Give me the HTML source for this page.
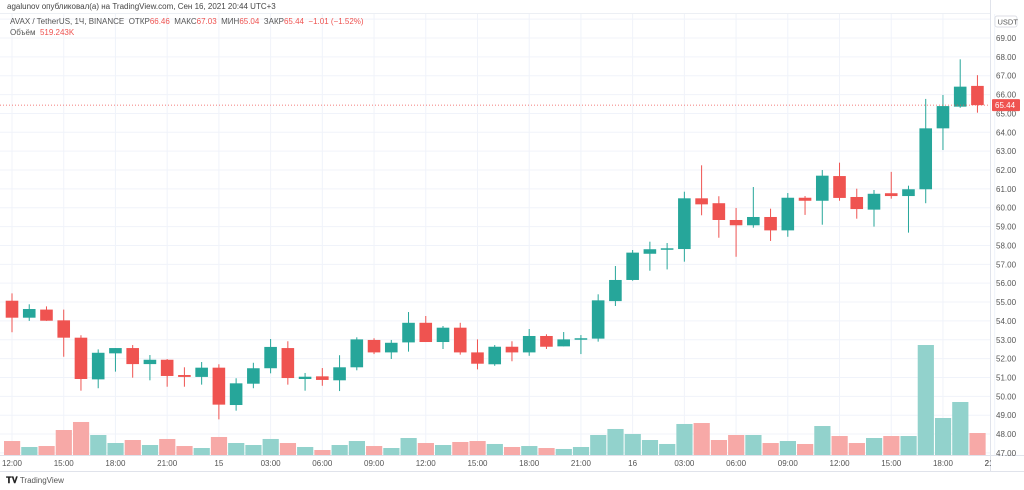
<!DOCTYPE html>
<html><head><meta charset="utf-8">
<style>
html,body{margin:0;padding:0;background:#fff;}
body{width:1024px;height:490px;overflow:hidden;position:relative;font-family:"Liberation Sans","DejaVu Sans",sans-serif;}
svg{position:absolute;left:0;top:0;}
</style></head>
<body>
<svg id="chart" width="1024" height="490"></svg>
<script>
const opens =[55.07,54.17,54.60,54.03,53.11,50.90,52.28,52.56,51.71,51.94,51.13,51.03,51.52,49.54,50.67,51.49,52.56,50.92,51.06,50.85,51.54,52.99,52.33,52.86,53.90,52.88,53.64,52.33,51.70,52.63,52.33,53.20,52.65,53.02,53.06,55.05,56.17,57.56,57.80,57.81,60.50,60.24,59.35,59.07,59.51,58.80,60.53,60.37,61.68,60.57,59.90,60.77,60.62,60.98,64.21,65.36,66.46];
const highs =[55.46,54.88,54.77,54.60,53.24,52.49,52.56,52.72,52.19,51.98,51.54,51.82,51.70,50.96,51.78,53.04,52.92,51.24,51.50,52.18,53.13,53.08,52.99,54.47,54.26,53.73,53.90,53.02,52.72,52.92,53.57,53.29,53.41,53.25,55.41,56.91,57.76,58.20,58.13,60.85,62.25,60.61,59.99,61.10,59.95,60.78,60.62,62.00,62.39,61.01,60.94,61.90,61.17,65.77,65.98,67.87,67.03];
const lows  =[53.40,54.00,54.00,52.10,50.30,50.43,51.31,50.99,50.85,50.51,50.51,50.62,48.78,49.24,50.43,51.22,50.62,50.30,50.56,50.28,51.38,52.24,51.98,52.37,52.88,52.51,52.21,51.43,51.62,51.86,52.15,52.51,52.65,52.24,52.90,54.79,56.13,56.66,56.73,57.14,59.60,58.41,57.40,58.94,58.24,58.46,59.62,59.10,60.37,59.42,59.00,60.48,58.68,60.24,63.06,65.30,65.04];
const closes=[54.17,54.63,54.01,53.11,50.92,52.31,52.56,51.71,51.94,51.08,51.03,51.52,49.56,50.69,51.49,52.62,50.97,51.04,50.87,51.54,53.02,52.33,52.84,53.90,52.88,53.64,52.33,51.73,52.63,52.33,53.20,52.63,53.02,53.08,55.09,56.17,57.62,57.80,57.85,60.50,60.18,59.35,59.07,59.51,58.80,60.53,60.37,61.70,60.52,59.93,60.74,60.62,60.98,64.21,65.39,66.42,65.44];
const volumes=[330,189,212,590,779,472,283,354,236,378,212,165,425,283,236,378,283,189,118,236,330,212,165,401,283,236,307,330,260,189,212,165,142,189,472,614,496,354,260,732,755,354,472,472,283,330,260,684,448,283,401,448,448,2596,873,1251,519];
const priceTicks=[47,48,49,50,51,52,53,54,55,56,57,58,59,60,61,62,63,64,65,66,67,68,69,70];
const timeLabels=["12:00","15:00","18:00","21:00","15","03:00","06:00","09:00","12:00","15:00","18:00","21:00","16","03:00","06:00","09:00","12:00","15:00","18:00","21:00"];
const lastPrice=65.44;

const NS="http://www.w3.org/2000/svg";
const svg=document.getElementById('chart');
const PLOT_R=990, VOL_BASE=455;
const xOf=i=>12+i*17.24;
const yOf=p=>38+(69-p)*18.86;
const vOf=v=>VOL_BASE-v/23.6;
function mk(tag,attrs,parent){const e=document.createElementNS(NS,tag);for(const k in attrs)e.setAttribute(k,attrs[k]);(parent||svg).appendChild(e);return e;}

const grid=mk('g',{});


priceTicks.forEach(p=>{const y=yOf(p);if(y<14||y>456)return;mk('line',{x1:0,x2:PLOT_R,y1:y,y2:y,stroke:'#f0f3fa','stroke-width':1},grid);});
timeLabels.forEach((t,k)=>{const x=xOf(k*3);mk('line',{x1:x,x2:x,y1:14,y2:VOL_BASE,stroke:'#f0f3fa','stroke-width':1},grid);});

const vg=mk('g',{});


volumes.forEach((v,i)=>{
  const up=closes[i]>=opens[i];
  const r=mk('rect',{x:xOf(i)-8,y:vOf(v),width:16.2,height:VOL_BASE-vOf(v),fill:up?'#92d2cc':'#f7a9a7'},vg);
  
  
});

const cg=mk('g',{});


opens.forEach((o,i)=>{
  const c=closes[i],up=c>=o,col=up?'#26a69a':'#ef5350',x=xOf(i);
  const g=mk('g',{},cg);
  
  
  mk('line',{x1:x,x2:x,y1:yOf(highs[i]),y2:yOf(lows[i]),stroke:col,'stroke-width':1},g);
  const top=yOf(Math.max(o,c)),bot=yOf(Math.min(o,c));
  mk('rect',{x:x-6.3,y:top,width:12.6,height:Math.max(1.5,bot-top),fill:col},g);
});

// last price line
const lp=mk('line',{x1:0,x2:PLOT_R,y1:yOf(lastPrice),y2:yOf(lastPrice),stroke:'#ef5350','stroke-width':0.7,'stroke-dasharray':'1 2'});



// axes
mk('line',{x1:PLOT_R+0.5,x2:PLOT_R+0.5,y1:0,y2:471,stroke:'#e0e3eb','stroke-width':1});
mk('line',{x1:0,x2:1024,y1:VOL_BASE+0.5,y2:VOL_BASE+0.5,stroke:'#e0e3eb','stroke-width':1});
mk('line',{x1:0,x2:1024,y1:471.5,y2:471.5,stroke:'#e0e3eb','stroke-width':1});
const ya=mk('g',{});


priceTicks.forEach(p=>{const y=yOf(p);if(y>456)return;
  const t=mk('text',{x:996,y:y+3,'font-size':8,fill:'#555'},ya);t.textContent=p.toFixed(2);
  
  
});
const xa=mk('g',{});


timeLabels.forEach((s,k)=>{
  const t=mk('text',{x:xOf(k*3),y:466,'font-size':8,fill:'#555','text-anchor':'middle'},xa);t.textContent=s;
  
  
});
const t21=mk('text',{x:xOf(57),y:466,'font-size':8,fill:'#555','text-anchor':'middle'},xa);t21.textContent="21:00";
// cover right of plot for axis background
mk('rect',{x:PLOT_R+1,y:456,width:40,height:15,fill:'#fff'});
// price badge
const pb=mk('g',{});


mk('rect',{x:992,y:yOf(lastPrice)-6,width:28,height:12,fill:'#ef5350',rx:1},pb);
const pbt=mk('text',{x:995,y:yOf(lastPrice)+3,'font-size':8,fill:'#fff'},pb);pbt.textContent=lastPrice.toFixed(2);
// USDT badge
const ub=mk('g',{});


mk('rect',{x:995,y:16,width:22,height:11,fill:'#fff',stroke:'#d1d4dc','stroke-width':0.7,rx:2},ub);
const ubt=mk('text',{x:997.5,y:24.5,'font-size':7.5,fill:'#555'},ub);ubt.textContent="USDT";
</script>
<div style="position:absolute;left:7px;top:2px;font-size:8px;color:#444;white-space:nowrap;">agalunov опубликовал(а) на TradingView.com, Сен 16, 2021 20:44 UTC+3</div>
<div style="position:absolute;left:0;top:13px;width:990px;height:1px;background:#eceff4;"></div>
<div style="position:absolute;left:10px;top:17px;font-size:8px;color:#555;white-space:nowrap;">AVAX / TetherUS, 1Ч, BINANCE &nbsp;ОТКР<span style="color:#ef5350">66.46</span> &nbsp;МАКС<span style="color:#ef5350">67.03</span> &nbsp;МИН<span style="color:#ef5350">65.04</span> &nbsp;ЗАКР<span style="color:#ef5350">65.44 &nbsp;−1.01 (−1.52%)</span></div>
<div style="position:absolute;left:10px;top:28px;font-size:8px;color:#555;white-space:nowrap;">Объём &nbsp;<span style="color:#ef5350">519.243K</span></div>
<div style="position:absolute;left:6px;top:475px;font-size:8px;color:#555;white-space:nowrap;"><b style="color:#222;font-size:9px;">𝐓𝐕</b> TradingView</div>
</body></html>
